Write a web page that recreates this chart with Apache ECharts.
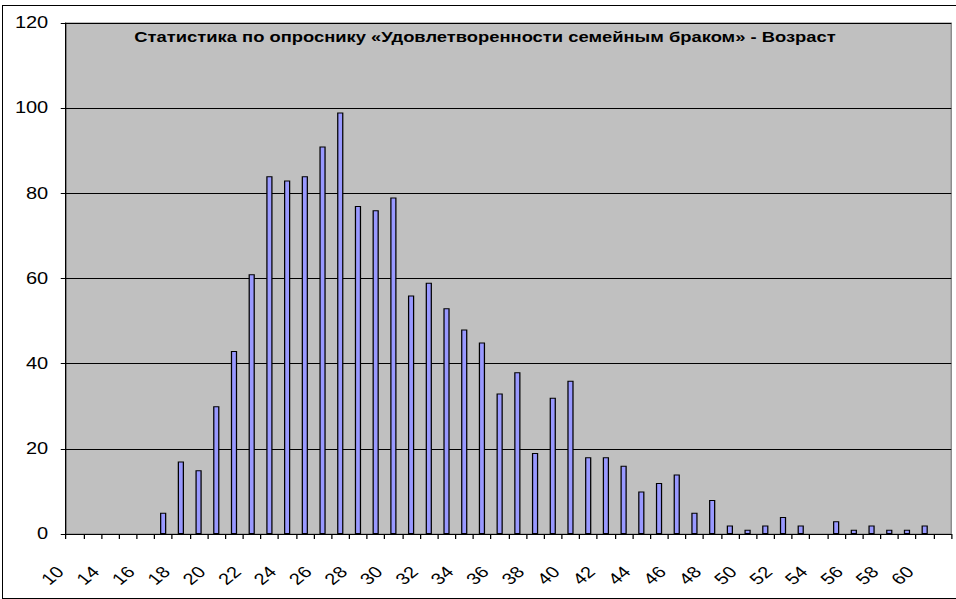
<!DOCTYPE html>
<html>
<head>
<meta charset="utf-8">
<script src="https://cdn.jsdelivr.net/npm/echarts@6/dist/echarts.min.js"></script>
<style>
  html, body { margin: 0; padding: 0; background: #fff; overflow: hidden; }
  #frame { position: absolute; left: 2px; top: 5px; width: 1000px; height: 592px; border: 1px solid #000; }
  #chart { position: absolute; left: 0; top: 0; width: 764.8px; height: 599px; transform: scaleX(1.25); transform-origin: 0 0; }
</style>
</head>
<body>
<div id="frame"></div>
<div id="chart"></div>
<script>
const titleText = 'Статистика по опроснику «Удовлетворенности семейным браком» - Возраст';
const ages = ['10','12','14','15','16','17','18','19','20','21','22','23','24','25','26','27','28','29','30','31','32','33','34','35','36','37','38','39','40','41','42','43','44','45','46','47','48','49','50','51','52','53','54','55','56','57','58','59','60','61'];
const counts = [0,0,0,0,0,5,17,15,30,43,61,84,83,84,91,99,77,76,79,56,59,53,48,45,33,38,19,32,36,18,18,16,10,12,14,5,8,2,1,2,4,2,0,3,1,2,1,1,2,0];
const yMin = 0, yMax = 120, yStep = 20;

const chart = echarts.init(document.getElementById('chart'), null, { renderer: 'svg' });
const font = 'Liberation Sans, Arial, sans-serif';
chart.setOption({
  animation: false,
  title: {
    text: titleText,
    left: 383, top: 25, textAlign: 'center',
    textStyle: { fontFamily: font, fontWeight: 'bold', fontSize: 14.7, color: '#000' }
  },
  grid: {
    left: 52.6, right: 4, top: 23, bottom: 65,
    show: true, backgroundColor: '#C0C0C0', borderColor: '#808080', borderWidth: 1
  },
  xAxis: {
    type: 'category',
    data: ages,
    boundaryGap: true,
    axisLine: { lineStyle: { color: '#000', width: 1 } },
    axisTick: { show: true, interval: 0, length: 5, lineStyle: { color: '#000' } },
    axisLabel: { interval: 1, rotate: 45, fontSize: 16, fontFamily: font, color: '#000', margin: 24, padding: [0, 16, 0, 0] }
  },
  yAxis: {
    type: 'value',
    min: yMin, max: yMax, interval: yStep,
    axisLine: { show: true, lineStyle: { color: '#000', width: 1 } },
    axisTick: { show: true, length: 4, lineStyle: { color: '#000' } },
    axisLabel: { fontSize: 16, fontFamily: font, color: '#000', margin: 14 },
    splitLine: { show: true, lineStyle: { color: '#000', width: 1 } }
  },
  series: [{
    type: 'bar',
    data: counts.map(v => (v === 0 ? null : v)),
    barWidth: 5,
    itemStyle: { color: '#9999FF', borderColor: '#000', borderWidth: 1 }
  }]
});
</script>
</body>
</html>
